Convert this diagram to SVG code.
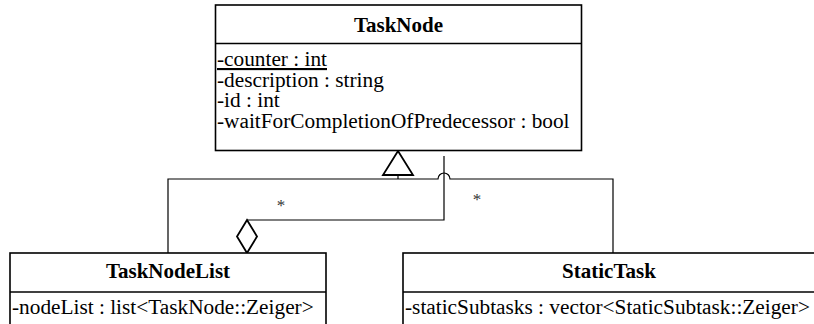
<svg xmlns="http://www.w3.org/2000/svg" width="814" height="324" viewBox="0 0 814 324">
  <style>
    .box { fill: #ffffff; stroke: #000000; stroke-width: 1.6; }
    .sep { stroke: #000000; stroke-width: 1.6; }
    .title { font-weight: bold; text-anchor: middle; }
    .mult { font-size: 17px; text-anchor: middle; fill: #333333; }
    .edge { fill: none; stroke: #000000; stroke-width: 1.2; }
    .head { fill: #ffffff; stroke: #000000; stroke-width: 1.8; }
  </style>
  <rect width="814" height="324" fill="#ffffff"/>

  <g font-family="'Liberation Serif', 'Times New Roman', serif" font-size="21.3" fill="#000000">
  <!-- connectors -->
  <g id="connectors">
    <!-- generalization: subclasses to TaskNode, with a line jump over the aggregation -->
    <path class="edge" d="M168,253 V179 H438 A6,6 0 0 1 450,179 H613 V253"/>
    <path class="edge" d="M398,179 V175"/>
    <polygon class="head" points="398,151 383,175 413,175"/>
    <!-- aggregation: TaskNodeList holds TaskNodes -->
    <path class="edge" d="M444,156 V220 H247"/>
    <polygon class="head" points="247,220 257,236.5 247,253 237,236.5"/>
    <text class="mult" x="281" y="211">*</text>
    <text class="mult" x="477" y="205">*</text>
  </g>

  <!-- TaskNode -->
  <g id="TaskNode">
    <rect class="box" x="215.5" y="5" width="366" height="145.5"/>
    <line class="sep" x1="215.5" y1="43.5" x2="581.5" y2="43.5"/>
    <text class="title" x="398.5" y="32" font-size="21">TaskNode</text>
    <text x="217" y="66" text-decoration="underline">-counter : int</text>
    <text x="217" y="86.5">-description : string</text>
    <text x="217" y="107">-id : int</text>
    <text x="217" y="128">-waitForCompletionOfPredecessor : bool</text>
  </g>

  <!-- TaskNodeList -->
  <g id="TaskNodeList">
    <rect class="box" x="10" y="253" width="316" height="80"/>
    <line class="sep" x1="10" y1="292" x2="326" y2="292"/>
    <text class="title" x="168" y="278" font-size="21">TaskNodeList</text>
    <text x="12" y="314">-nodeList : list&lt;TaskNode::Zeiger&gt;</text>
  </g>

  <!-- StaticTask -->
  <g id="StaticTask">
    <rect class="box" x="403" y="253" width="412" height="80"/>
    <line class="sep" x1="403" y1="292" x2="815" y2="292"/>
    <text class="title" x="609" y="278" font-size="21">StaticTask</text>
    <text x="405" y="314">-staticSubtasks : vector&lt;StaticSubtask::Zeiger&gt;</text>
  </g>
  </g>
</svg>
